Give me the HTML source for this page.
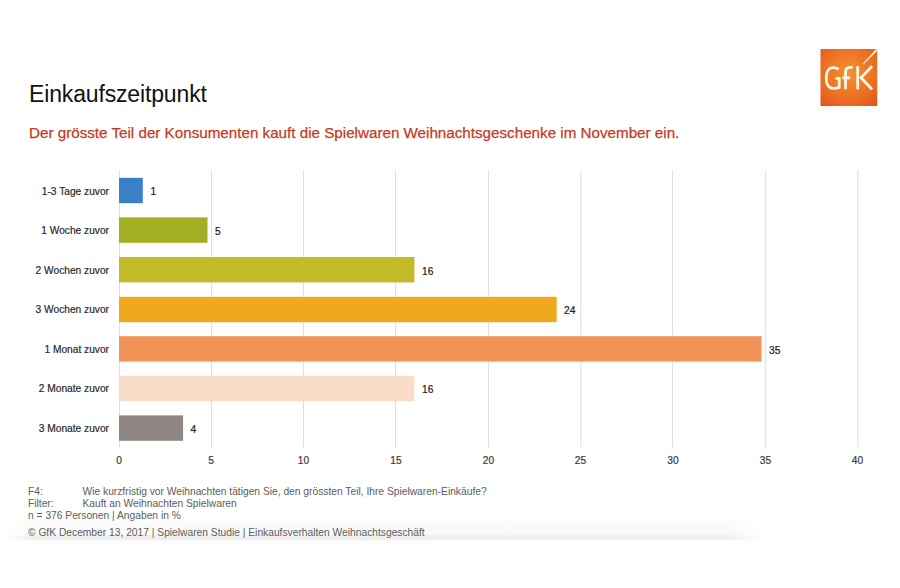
<!DOCTYPE html>
<html>
<head>
<meta charset="utf-8">
<style>
html,body{margin:0;padding:0;background:#fff;}
body{width:900px;height:588px;position:relative;overflow:hidden;font-family:"Liberation Sans",sans-serif;}
.t{position:absolute;white-space:nowrap;line-height:1;}
#title{left:29px;top:83px;font-size:23px;color:#111;letter-spacing:-0.15px;}
#sub{left:29px;top:125px;font-size:15.2px;color:#c63a1e;-webkit-text-stroke:0.25px #c63a1e;}
.lab{position:absolute;right:791px;font-size:10.2px;color:#2a2a2a;-webkit-text-stroke:0.2px #2a2a2a;white-space:nowrap;line-height:1;}
.val{position:absolute;font-size:10.2px;color:#1a1a1a;-webkit-text-stroke:0.2px #1a1a1a;white-space:nowrap;line-height:1;}
.ax{position:absolute;font-size:10.2px;color:#3a3a3a;-webkit-text-stroke:0.2px #3a3a3a;white-space:nowrap;line-height:1;width:40px;text-align:center;top:456px;}
.foot{position:absolute;font-size:10.25px;color:#5c5c5c;white-space:nowrap;line-height:1;}
#band{position:absolute;left:0;top:520px;width:900px;height:22px;
 background:linear-gradient(to right,rgba(255,255,255,1) 8px,rgba(255,255,255,0) 32px,rgba(255,255,255,0) 728px,rgba(255,255,255,1) 762px),
 linear-gradient(to bottom,#fff 0px,#fbfbfb 2px,#f9f9f9 14px,#f1f1f1 16px,#eeeeee 19px,#fff 21.5px);}
</style>
</head>
<body>
<div id="title" class="t">Einkaufszeitpunkt</div>
<div id="sub" class="t">Der grösste Teil der Konsumenten kauft die Spielwaren Weihnachtsgeschenke im November ein.</div>

<svg width="900" height="588" style="position:absolute;left:0;top:0">
  <g stroke="#dfdfdf" stroke-width="1">
    <line x1="119.5" y1="170" x2="119.5" y2="447.5"/>
    <line x1="211.5" y1="170" x2="211.5" y2="447.5"/>
    <line x1="303.5" y1="170" x2="303.5" y2="447.5"/>
    <line x1="395.5" y1="170" x2="395.5" y2="447.5"/>
    <line x1="488.5" y1="170" x2="488.5" y2="447.5"/>
    <line x1="580.8" y1="170" x2="580.8" y2="447.5"/>
    <line x1="672.5" y1="170" x2="672.5" y2="447.5"/>
    <line x1="765.3" y1="170" x2="765.3" y2="447.5"/>
    <line x1="857.9" y1="170" x2="857.9" y2="447.5"/>
  </g>
  <rect x="119" y="177.8" width="23.8" height="25.4" fill="#3b7fc8"/>
  <rect x="119" y="217.4" width="88.5" height="25.4" fill="#a3ae25"/>
  <rect x="119" y="257.0" width="295.4" height="25.4" fill="#c3ba2a"/>
  <rect x="119" y="296.8" width="437.7" height="25.4" fill="#f0a91f"/>
  <rect x="119" y="336.2" width="642.6" height="25.4" fill="#f09458"/>
  <rect x="119" y="375.8" width="295.3" height="25.4" fill="#f9dcc8"/>
  <rect x="119" y="415.4" width="64.1" height="25.4" fill="#8f8583"/>
</svg>

<div class="lab" style="top:187px">1-3 Tage zuvor</div>
<div class="lab" style="top:226px">1 Woche zuvor</div>
<div class="lab" style="top:266px">2 Wochen zuvor</div>
<div class="lab" style="top:305px">3 Wochen zuvor</div>
<div class="lab" style="top:345px">1 Monat zuvor</div>
<div class="lab" style="top:384px">2 Monate zuvor</div>
<div class="lab" style="top:424px">3 Monate zuvor</div>

<div class="val" style="left:150.5px;top:187px">1</div>
<div class="val" style="left:215px;top:227px">5</div>
<div class="val" style="left:422px;top:266.5px">16</div>
<div class="val" style="left:564px;top:306px">24</div>
<div class="val" style="left:769px;top:345.5px">35</div>
<div class="val" style="left:422px;top:385px">16</div>
<div class="val" style="left:190.5px;top:425px">4</div>

<div class="ax" style="left:99px">0</div>
<div class="ax" style="left:191px">5</div>
<div class="ax" style="left:283.5px">10</div>
<div class="ax" style="left:376px">15</div>
<div class="ax" style="left:468.5px">20</div>
<div class="ax" style="left:560.5px">25</div>
<div class="ax" style="left:653px">30</div>
<div class="ax" style="left:745.5px">35</div>
<div class="ax" style="left:837.5px">40</div>

<div id="band"></div>
<div class="foot" style="left:28px;top:487px">F4:</div>
<div class="foot" style="left:82.5px;top:487px">Wie kurzfristig vor Weihnachten tätigen Sie, den grössten Teil, Ihre Spielwaren-Einkäufe?</div>
<div class="foot" style="left:28px;top:499px">Filter:</div>
<div class="foot" style="left:82.5px;top:499px">Kauft an Weihnachten Spielwaren</div>
<div class="foot" style="left:28px;top:511px">n = 376 Personen | Angaben in %</div>
<div class="foot" style="left:28px;top:528px">© GfK December 13, 2017 | Spielwaren Studie | Einkaufsverhalten Weihnachtsgeschäft</div>

<svg width="60" height="60" viewBox="0 0 60 60" style="position:absolute;left:820px;top:49px">
  <defs>
    <radialGradient id="lg" cx="0.5" cy="0.42" r="0.72">
      <stop offset="0" stop-color="#f49230"/>
      <stop offset="0.55" stop-color="#ee7424"/>
      <stop offset="1" stop-color="#e5561e"/>
    </radialGradient>
  </defs>
  <rect x="0.5" y="0" width="56.7" height="57" fill="url(#lg)"/>
  <g fill="none" stroke="#fff7e2" stroke-width="2.8" stroke-linecap="butt" stroke-linejoin="miter">
    <path d="M18.6 20.3 C17.2 19.2 15.2 18.7 13 18.7 C8.8 18.7 6.2 22.8 6.2 29.1 C6.2 35.3 8.8 39.4 13 39.4 C15.6 39.4 17.6 39 19.2 38.4 L19.2 29.3 L15.6 29.3"/>
    <path d="M25.5 40.3 L25.5 23 C25.5 19.6 27.5 18.4 30 18.4 L32.7 18.4 M22.4 28.8 L30.2 28.8"/>
    <path d="M37.7 17.3 L37.7 40.3 M52 17.3 L41 28.7 L52 40.3"/>
  </g>
  <path d="M43.3 14.9 L56.2 0.2 L56.4 2.2 Z" fill="#fff7e2" stroke="#fff7e2" stroke-width="0.9"/>
</svg>
</body>
</html>
